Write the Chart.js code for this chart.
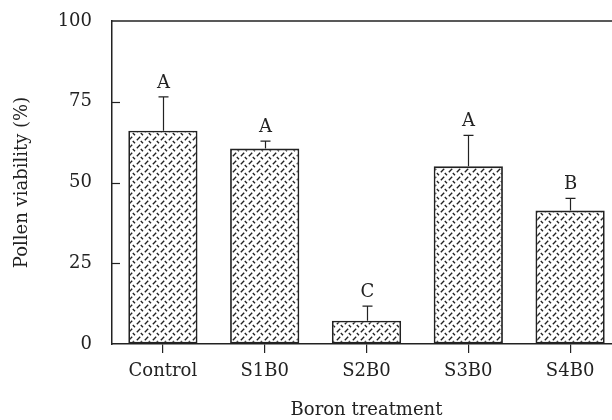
<!DOCTYPE html>
<html>
<head>
<meta charset="utf-8">
<script src="https://cdn.jsdelivr.net/npm/chart.js@4"></script>
<style>
html,body{margin:0;padding:0;background:#fff;overflow:hidden;width:612px;height:420px;}
canvas{display:block;}
</style>
</head>
<body>
<canvas id="c" width="626" height="420" style="width:626px;height:420px"></canvas>
<script>
const categories = ["Control", "S1B0", "S2B0", "S3B0", "S4B0"];
const viability = [66, 60.5, 7.2, 55, 41.3];
const errorUp = [10.5, 2.3, 4.5, 9.6, 3.8];
const letters = ["A", "A", "C", "A", "B"];
const yTicks = [0, 25, 50, 75, 100];

const FONT = "'DejaVu Serif', serif";
const INK = "#222";

function makePattern() {
  const t = document.createElement('canvas');
  t.width = 8; t.height = 8;
  const g = t.getContext('2d');
  g.fillStyle = '#fff';
  g.fillRect(0, 0, 8, 8);
  g.strokeStyle = '#222';
  g.lineWidth = 1.4;
  g.lineCap = 'butt';
  g.beginPath();
  g.moveTo(0.8, 4.2); g.lineTo(4.2, 0.8);
  g.moveTo(4.8, 5.0); g.lineTo(7.0, 7.2);
  g.stroke();
  return t.getContext('2d').createPattern(t, 'repeat');
}

const extras = {
  id: 'extras',
  afterDatasetsDraw(chart) {
    const ctx = chart.ctx;
    const x = chart.scales.x, y = chart.scales.y;
    const ca = chart.chartArea;
    ctx.save();
    ctx.strokeStyle = INK;
    ctx.fillStyle = INK;
    // top border
    ctx.lineWidth = 1.5;
    ctx.beginPath();
    ctx.moveTo(ca.left, y.getPixelForValue(100));
    ctx.lineTo(ca.right, y.getPixelForValue(100));
    ctx.stroke();
    // inward y ticks
    ctx.lineWidth = 1.2;
    yTicks.forEach(v => {
      if (v === 0 || v === 100) return;
      const py = Math.round(y.getPixelForValue(v)) + 0.5;
      ctx.beginPath();
      ctx.moveTo(ca.left, py);
      ctx.lineTo(ca.left + 8, py);
      ctx.stroke();
    });
    // error bars and letters
    ctx.font = "18px " + FONT;
    ctx.textAlign = 'center';
    ctx.textBaseline = 'middle';
    categories.forEach((c, i) => {
      const px = Math.round(x.getPixelForValue(i)) + 0.5;
      const pBase = y.getPixelForValue(viability[i]);
      const pTop = y.getPixelForValue(viability[i] + errorUp[i]);
      ctx.lineWidth = 1.2;
      ctx.beginPath();
      ctx.moveTo(px, pBase);
      ctx.lineTo(px, pTop);
      ctx.moveTo(px - 5, pTop);
      ctx.lineTo(px + 5, pTop);
      ctx.stroke();
      ctx.fillText(letters[i], px, pTop - 14);
    });
    ctx.restore();
  }
};

new Chart(document.getElementById('c'), {
  type: 'bar',
  data: {
    labels: categories,
    datasets: [{
      data: viability,
      backgroundColor: makePattern(),
      borderColor: INK,
      borderWidth: 1.8,
      borderSkipped: false,
      categoryPercentage: 1,
      barPercentage: 0.68
    }]
  },
  options: {
    responsive: false,
    animation: false,
    layout: { padding: { top: 21, right: 5, bottom: -1, left: 0 } },
    plugins: { legend: { display: false }, tooltip: { enabled: false } },
    scales: {
      x: {
        grid: { display: true, offset: false, drawOnChartArea: false, drawTicks: true, tickLength: 9, color: INK, lineWidth: 1.2 },
        border: { display: true, color: INK, width: 1.5 },
        ticks: { color: INK, font: { family: FONT, size: 18 }, padding: 8, maxRotation: 0 },
        title: { display: true, text: 'Boron treatment', color: INK, font: { family: FONT, size: 18 }, padding: { top: 0, bottom: 0 } },
        afterFit(s) { s.height = 77; }
      },
      y: {
        min: 0, max: 100,
        afterBuildTicks(s) { s.ticks = yTicks.map(v => ({ value: v })); },
        grid: { display: true, drawOnChartArea: false, drawTicks: true, tickLength: 20, color: 'rgba(0,0,0,0)' },
        border: { display: true, color: INK, width: 1.5 },
        ticks: { color: INK, font: { family: FONT, size: 18 }, padding: 0 },
        title: { display: true, text: 'Pollen viability (%)', color: INK, font: { family: FONT, size: 18 }, padding: { top: 12, bottom: 0 } },
        afterFit(s) { s.width = 112; }
      }
    }
  },
  plugins: [extras]
});
</script>
</body>
</html>
